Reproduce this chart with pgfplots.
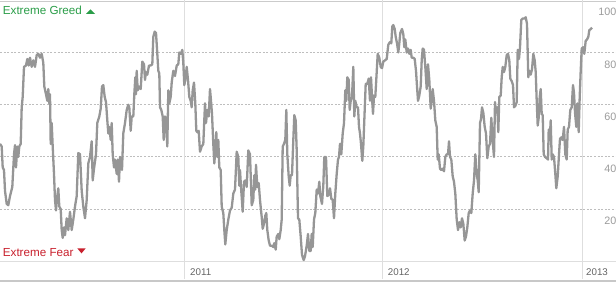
\documentclass[border=0pt]{standalone}
\usepackage{fontspec}
\setmainfont{Liberation Sans}
\usepackage{pgfplots}
\pgfplotsset{compat=1.18}
\definecolor{greedgreen}{RGB}{42,157,72}
\definecolor{fearred}{RGB}{200,32,45}
\definecolor{lineg}{RGB}{150,150,150}
\definecolor{gridg}{RGB}{190,190,190}
\definecolor{vlineg}{RGB}{222,222,222}
\definecolor{labg}{RGB}{155,155,155}
\definecolor{yearg}{RGB}{100,100,100}
\tikzset{
  gridd/.style={gridg, line width=0.9bp, dash pattern=on 2bp off 1.6bp},
  vl/.style={vlineg, line width=1bp},
  yr/.style={anchor=base west, inner sep=0pt, text=yearg, font=\fontsize{9.8pt}{11pt}\selectfont},
  rl/.style={anchor=base east, inner sep=0pt, text=labg, font=\fontsize{10.8pt}{12pt}\selectfont},
}
\begin{document}
\begin{tikzpicture}
\begin{axis}[
  at={(0,0)}, anchor=south west,
  scale only axis, width=616bp, height=282bp,
  xmin=0, xmax=616, ymin=-7.9, ymax=100.1,
  axis lines=none, xtick=\empty, ytick=\empty,
  clip=false,
]
% background structure
\draw[vl] (axis cs:0,0) -- (axis cs:616,0);
\draw[gridd] (axis cs:0,20) -- (axis cs:616,20);
\draw[gridd] (axis cs:0,40) -- (axis cs:616,40);
\draw[gridd] (axis cs:0,60) -- (axis cs:616,60);
\draw[gridd] (axis cs:0,80) -- (axis cs:616,80);
\draw[gridg!80, line width=1.3bp] (axis cs:0,99.6) -- (axis cs:616,99.6);
\draw[vl] (axis cs:184.4,100.1) -- (axis cs:184.4,-6.9);
\draw[vl] (axis cs:382.7,100.1) -- (axis cs:382.7,-6.9);
\draw[vl] (axis cs:582,100.1) -- (axis cs:582,-6.9);
\fill[gridg!85] (axis cs:0,-6.95) rectangle (axis cs:616,-7.8);
% labels
\node[anchor=base west, inner sep=0pt, text=greedgreen, font=\fontsize{11.7pt}{13pt}\selectfont] at (axis cs:2.7,94.5) {Extreme Greed};
\fill[greedgreen] (axis cs:86,94.79) -- (axis cs:95,94.79) -- (axis cs:90.5,96.55) -- cycle;
\node[anchor=base west, inner sep=0pt, text=fearred, font=\fontsize{11.7pt}{13pt}\selectfont] at (axis cs:2.7,2.04) {Extreme Fear};
\fill[fearred] (axis cs:77.3,4.98) -- (axis cs:85.7,4.98) -- (axis cs:81.5,3.07) -- cycle;
\node[yr] at (axis cs:190,-5.6) {2011};
\node[yr] at (axis cs:387.7,-5.6) {2012};
\node[yr] at (axis cs:586,-5.6) {2013};
\node[rl] at (axis cs:616.5,94.1) {100};
\node[rl] at (axis cs:616.5,74.0) {80};
\node[rl] at (axis cs:616.5,54.0) {60};
\node[rl] at (axis cs:616.5,34.1) {40};
\node[rl] at (axis cs:616.5,14.3) {20};
% data
\addplot[lineg, line width=2.3bp, line join=round, mark=none] coordinates {
(0.0,45) (1.7,44) (2.7,36) (4.0,35) (5.0,27) (6.7,22) (8.3,21.5) (10.0,25) (12.3,28.5) (14.0,41)
(15.0,44.5) (16.0,36) (17.3,44) (18.3,40) (19.3,44) (20.7,45) (21.7,59) (22.7,63) (24.0,74.5) (26.0,75)
(27.3,77.5) (28.7,75) (30.0,78) (31.7,74.5) (33.3,77) (35.0,74.5) (36.7,79) (38.3,79.5) (40.0,78) (41.7,79.5)
(43.3,76) (44.3,67) (46.0,64) (47.3,61.5) (48.3,66) (49.3,60.5) (50.0,64) (50.7,45) (51.7,53) (52.7,44)
(54.0,33.5) (55.0,23.5) (56.0,19.5) (57.3,25) (58.3,28) (59.3,21) (60.7,20) (61.7,12) (62.7,9) (64.0,13)
(65.0,10) (66.7,16.5) (68.3,12) (70.0,19) (71.7,12) (73.3,16) (75.0,21) (76.7,25) (78.3,41.5) (80.0,41)
(81.7,27) (83.3,21) (85.0,16.5) (86.7,23.5) (88.3,37.5) (90.0,40) (91.7,46) (92.7,31) (94.0,35.5) (96.0,41)
(97.3,53) (99.3,55.5) (100.7,58.5) (102.0,67) (103.3,67.5) (104.7,63) (106.0,61) (107.3,54) (108.3,49) (109.3,51.5)
(110.7,46.5) (111.7,53) (112.7,41) (114.0,36) (115.0,39) (116.7,33.5) (117.7,39) (119.0,30.5) (120.0,40)
(121.0,37.5) (122.0,35) (123.3,49) (125.0,53) (126.7,58) (128.3,60) (129.3,59) (130.7,50) (131.7,55.5) (133.3,55.5)
(134.3,64) (135.3,70.5) (136.0,64) (136.7,73) (137.7,65.5) (139.0,67) (140.7,66) (142.3,76.5) (144.0,75.5) (145.0,69.5)
(146.0,72.5) (147.3,71.5) (149.0,75) (150.7,75) (152.3,75.5) (153.3,86) (154.7,88) (156.0,87.5) (157.3,79.5) (158.3,73)
(159.3,72) (160.0,59) (161.3,58) (162.7,55.5) (163.7,46.5) (165.0,55.5) (166.0,54) (167.3,44) (168.3,65.5) (169.3,60.5)
(170.7,63) (171.7,68.5) (173.3,73) (175.0,71) (176.7,75) (178.3,75.5) (179.3,80) (181.0,79.5) (182.3,81) (183.3,76)
(184.3,67.5) (185.7,70.5) (186.7,74.5) (188.0,69.5) (189.3,63) (190.7,61.5) (191.7,59) (192.7,65.5) (194.0,68.5) (195.3,60.5)
(196.3,50) (197.3,49.5) (198.7,50) (200.0,42) (201.7,44) (203.3,45) (205.0,60.5) (206.0,53) (207.3,58) (208.7,55.5)
(210.0,66) (211.0,61.5) (212.0,56.5) (213.3,45) (214.3,37.5) (215.3,42.5) (216.3,49.5) (217.3,40) (218.3,46.5) (219.3,36)
(220.7,35) (221.7,21) (223.3,18.5) (224.3,12) (225.3,6.5) (226.7,12) (228.3,16) (230.0,19.5) (231.7,20.5) (233.3,26)
(235.0,27.5) (236.7,42) (238.3,40) (239.3,29) (240.0,35)
(241.0,28.5) (242.7,19) (244.0,30.5) (245.3,31) (246.7,28.5) (248.3,42.5) (250.0,41) (251.7,21.5) (253.3,23.5) (254.3,33)
(255.3,27.5) (256.0,37) (257.3,28.5) (258.7,30) (260.0,23.5) (261.7,17) (262.7,12.5) (264.0,14.5) (265.3,17.5) (266.3,18.5)
(267.3,12) (268.7,8) (270.0,6) (271.7,6) (273.3,5.5) (274.3,7) (275.7,4.5) (276.7,9.5) (278.3,10.5) (279.3,8.5)
(280.7,12) (281.7,16) (282.7,44) (284.0,45) (285.3,46.5) (286.3,58) (287.3,41) (288.7,32.5) (289.7,29) (290.7,33)
(292.0,33) (293.3,46.5) (294.3,56) (295.7,54) (296.7,42.5) (298.0,16.5) (299.3,16) (300.7,9.5) (302.0,2.5) (303.7,0.5)
(305.0,2) (306.7,6) (308.0,10.5) (309.3,4) (310.7,4) (311.7,10.5) (312.7,5.5) (314.0,16) (315.3,18.5) (316.7,27.5)
(318.0,26) (319.3,30.5) (320.3,25) (322.0,22) (323.3,29) (324.3,40) (326.0,40) (327.3,25) (328.7,25.5) (330.0,28)
(331.3,24) (332.7,23.5) (334.0,16.5) (335.3,26) (336.7,33.5) (338.0,39) (339.0,40) (340.0,45) (341.3,41) (342.7,49)
(344.0,53) (345.3,65.5) (346.3,61.5) (347.3,70.5) (348.7,69.5) (349.7,58) (350.7,61.5) (352.0,63) (353.3,74.5) (354.3,55.5)
(355.3,61.5) (356.7,59) (358.0,59) (359.0,51.5) (360.0,49)
(361.0,45) (362.3,38.5) (363.3,44) (364.7,58) (365.7,68) (367.3,68) (368.7,70) (370.0,61.5) (371.0,70.5) (372.0,63)
(373.0,56.5) (374.0,63.5) (375.3,63) (376.7,72.5) (377.7,79.5) (379.3,78) (380.7,74.5) (382.0,74) (383.3,76.5) (385.0,77)
(386.7,77.5) (388.3,83) (390.0,84) (391.3,83.5) (392.3,90) (393.3,90.5) (394.7,89) (395.7,86) (397.0,83.5) (398.3,80)
(399.3,83.5) (400.3,87.5) (402.0,89) (403.3,87) (404.3,82) (405.3,85) (406.7,80) (408.0,81.5) (409.3,79.5) (410.7,81)
(411.7,78) (413.3,78) (414.7,77.5) (416.0,73) (417.0,67) (418.0,61.5) (419.3,63.5) (420.7,67) (421.7,77) (422.7,81.5)
(424.0,81) (425.3,74.5) (426.7,66) (428.0,75.5) (429.3,69.5) (430.7,58.5) (431.7,61.5) (432.7,66) (434.0,61.5) (435.3,54)
(436.7,51.5) (437.7,39) (438.7,41) (440.0,35.5) (441.3,35) (442.7,35.5) (444.0,34.5) (445.3,40) (446.7,41) (448.0,41)
(449.0,46) (450.0,40) (451.3,39) (452.7,32.5) (454.0,30.5) (455.3,26) (456.7,16) (458.0,12) (459.3,15) (460.7,13)
(462.0,16.5) (463.3,14.5) (464.7,8) (466.0,9.5) (467.3,13) (468.7,18.5) (470.0,19.5) (471.3,18.5) (472.7,26) (474.0,31)
(475.3,41) (476.7,33.5) (477.7,31) (478.7,26.5) (480.0,53)
(481.0,54.5) (482.0,59) (483.3,57) (484.7,51.5) (486.0,49) (487.3,39.5) (488.7,44) (490.0,45) (491.3,55) (492.7,46)
(494.0,40) (495.0,61) (496.0,57) (497.3,59) (498.3,49.5) (499.3,63) (500.7,63.5) (501.7,70.5) (502.7,74.5) (504.0,72.5)
(505.3,74.5) (506.7,79) (508.0,79.5) (509.3,77) (510.3,70) (511.7,69) (513.0,67.5) (514.0,59) (515.3,59.5) (516.7,61)
(517.7,81) (519.0,77.5) (520.0,82) (521.3,92.5) (522.7,93) (524.3,93) (525.7,93.5) (527.0,91) (528.3,70.5) (529.3,73)
(530.7,71.5) (532.0,73.5) (533.3,79.5) (534.7,77) (535.7,72.5) (536.7,61.5) (537.7,52) (538.7,55) (539.7,63) (540.7,66)
(541.7,56.5) (542.7,56) (543.7,41) (545.0,40) (546.7,39.5) (548.0,39) (548.7,50.5) (549.7,46.5) (550.7,54) (551.7,39)
(552.7,41) (554.0,40) (555.3,33.5) (556.3,28) (557.7,32.5) (559.0,41) (560.0,47) (561.3,47.5) (562.7,46.5) (564.0,51.5)
(565.3,41) (566.7,39) (567.7,50.5) (569.0,51.5) (570.3,58) (571.7,59) (573.0,67.5) (574.0,64.5) (575.0,57) (576.3,51.5)
(577.3,60.5) (578.7,49.5) (579.7,63) (580.7,73) (581.7,81.5) (583.0,82) (584.3,79.5) (585.7,84.5) (587.0,85) (588.3,86)
(589.3,88.5) (590.7,89) (592.0,89.5)
};
\end{axis}
\pgfresetboundingbox
\path (current axis.south west) rectangle (current axis.north east);
\end{tikzpicture}
\end{document}
